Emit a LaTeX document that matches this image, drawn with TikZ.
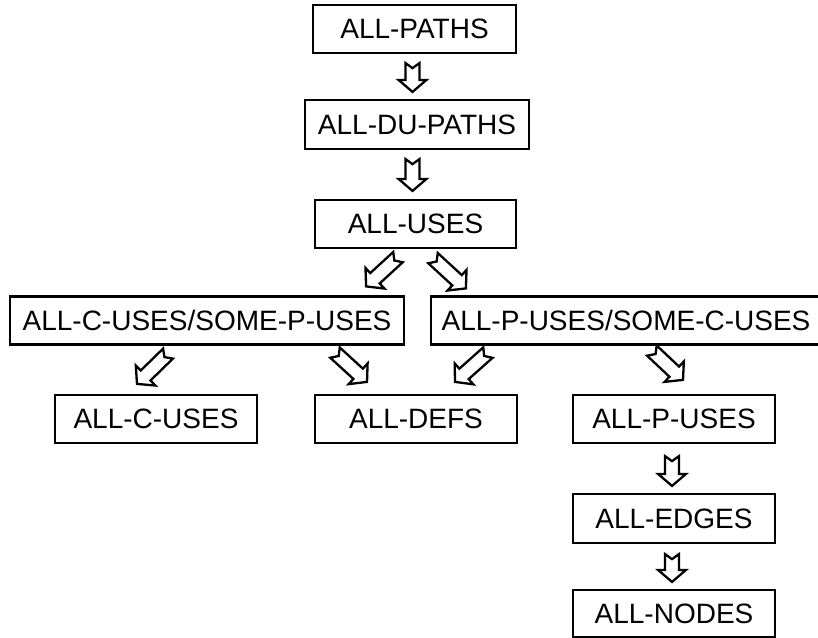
\documentclass[tikz,border=0pt]{standalone}
\usepackage{fontspec}
\setmainfont{Liberation Sans}
\usetikzlibrary{calc}

\tikzset{
  box/.style={draw=black, line width=2.2pt, fill=white, inner sep=0pt,
    minimum height=48pt, font=\fontsize{28}{32}\selectfont},
  % hollow block arrow with a notched tail, drawn from start to target
  blockarrow/.style={draw=black, line width=2.3pt, fill=white, line join=miter,
    to path={
      let \p1=(\tikztostart), \p2=(\tikztotarget),
          \n1={atan2(\y2-\y1,\x2-\x1)},
          \n2={veclen(\x2-\x1,\y2-\y1)}
      in
      ($(\p1)+(\n1+90:7pt)$)
      -- ($(\p1)+(\n1:\n2-12pt)+(\n1+90:7pt)$)
      -- ($(\p1)+(\n1:\n2-12pt)+(\n1+90:14pt)$)
      -- (\p2)
      -- ($(\p1)+(\n1:\n2-12pt)+(\n1-90:14pt)$)
      -- ($(\p1)+(\n1:\n2-12pt)+(\n1-90:7pt)$)
      -- ($(\p1)+(\n1-90:7pt)$)
      -- ($(\p1)+(\n1:5pt)$)
      -- cycle
    }},
}

\begin{document}
\begin{tikzpicture}[x=1pt, y=-1pt]
  \useasboundingbox (0,0) rectangle (818,637);

  % coverage criteria
  \node[box, minimum width=203pt] (paths) at (414.5,29)   {ALL-PATHS};
  \node[box, minimum width=224pt, minimum height=49pt] (du) at (417,124.5) {ALL-DU-PATHS};
  \node[box, minimum width=201pt] (uses)  at (415.5,224)  {ALL-USES};
  \node[box, minimum width=394pt] (cpu)   at (207,320.5)  {ALL-C-USES/SOME-P-USES};
  \node[box, minimum width=390pt] (puc)   at (626,320.5)  {ALL-P-USES/SOME-C-USES};
  \node[box, minimum width=202pt] (cuses) at (156,419)    {ALL-C-USES};
  \node[box, minimum width=202pt] (defs)  at (416,419)    {ALL-DEFS};
  \node[box, minimum width=202pt] (puses) at (674,419)    {ALL-P-USES};
  \node[box, minimum width=202pt, minimum height=49pt] (edges) at (674,518.5) {ALL-EDGES};
  \node[box, minimum width=202pt, minimum height=47pt] (nodes) at (674,613.5) {ALL-NODES};

  % subsumption arrows
  \draw[blockarrow] ($(paths.south)+(-2,9)$)  to ($(du.north)+(-4.5,-7)$);
  \draw[blockarrow] ($(du.south)+(-4.5,9)$)   to ($(uses.north)+(-3,-8)$);
  \draw[blockarrow] ($(uses.south)+(-17.5,8)$) to ($(cpu.north east)+(-39,-9)$);
  \draw[blockarrow] ($(uses.south)+(17.5,9)$) to ($(puc.north west)+(36,-7)$);
  \draw[blockarrow] ($(cpu.south)+(-39,8)$)   to ($(cuses.north)+(-19,-10)$);
  \draw[blockarrow] ($(cpu.south)+(128,7)$)   to ($(defs.north)+(-49,-12)$);
  \draw[blockarrow] ($(puc.south west)+(58,7)$) to ($(defs.north)+(39,-12)$);
  \draw[blockarrow] ($(puc.south west)+(222,5)$) to ($(puses.north)+(9,-14)$);
  \draw[blockarrow] ($(puses.south)+(-2,12)$) to ($(edges.north)+(-2,-7)$);
  \draw[blockarrow] ($(edges.south)+(-2,10)$) to ($(nodes.north)+(-2,-7)$);
\end{tikzpicture}
\end{document}
